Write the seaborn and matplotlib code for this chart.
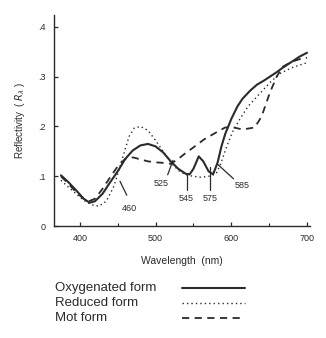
import numpy as np
import pandas as pd
import matplotlib
matplotlib.use("Agg")
import matplotlib.pyplot as plt
from matplotlib.lines import Line2D
import seaborn as sns

# values
oxy_wl = [375, 385, 395, 405, 413, 420, 430, 440, 450, 460, 470, 480, 490, 500, 510, 520,
          530, 540, 545, 550, 557, 563, 570, 576, 582, 587, 592, 600, 608, 615, 625, 634,
          643, 651, 660, 668, 680, 690, 700]
oxy_r = [0.102, 0.088, 0.072, 0.055, 0.047, 0.050, 0.065, 0.088, 0.110, 0.135, 0.152, 0.162,
         0.165, 0.160, 0.148, 0.130, 0.115, 0.105, 0.104, 0.115, 0.140, 0.130, 0.110, 0.104,
         0.128, 0.160, 0.185, 0.215, 0.240, 0.256, 0.272, 0.284, 0.292, 0.300, 0.309, 0.318,
         0.330, 0.340, 0.348]

red_wl = [375, 385, 395, 405, 415, 425, 435, 445, 455, 465, 472, 480, 490, 500, 510, 520,
          530, 540, 550, 560, 570, 580, 586, 594, 602, 611, 622, 634, 651, 664, 680, 690, 700]
red_r = [0.092, 0.078, 0.065, 0.052, 0.043, 0.040, 0.050, 0.080, 0.130, 0.180, 0.197, 0.200,
         0.192, 0.172, 0.150, 0.128, 0.112, 0.103, 0.100, 0.098, 0.100, 0.105, 0.125, 0.160,
         0.190, 0.214, 0.240, 0.260, 0.288, 0.306, 0.318, 0.323, 0.328]

mot_wl = [375, 385, 395, 405, 412, 420, 430, 440, 450, 460, 470, 480, 490, 500, 510, 520,
          530, 540, 550, 564, 580, 592, 603, 615, 631, 640, 651, 660, 668, 680, 690, 700]
mot_r = [0.100, 0.085, 0.068, 0.055, 0.050, 0.055, 0.075, 0.098, 0.120, 0.135, 0.138, 0.134,
         0.130, 0.128, 0.127, 0.125, 0.135, 0.147, 0.158, 0.174, 0.188, 0.198, 0.198, 0.194,
         0.198, 0.220, 0.268, 0.300, 0.320, 0.330, 0.335, 0.338]

peak_labels = ["460", "525", "545", "575", "585"]
# (text x, text y, line start x, line start y, line end x, line end y)
peak_marks = [(466, 0.035, 453, 0.090, 462, 0.062),
              (508, 0.085, 523, 0.132, 516, 0.103),
              (541, 0.055, 541, 0.104, 541, 0.073),
              (572, 0.055, 572, 0.118, 572, 0.073),
              (615, 0.082, 582, 0.124, 603, 0.095)]

legend_names = ["Oxygenated form", "Reduced form", "Mot form"]

sns.set_style("ticks")
plt.rcParams['font.family'] = ['Liberation Sans', 'DejaVu Sans']

ink = "#2b2b2b"
styles = ["-", (0, (1, 2.2)), (0, (4, 3))]
widths = [1.5, 1.0, 1.3]

fig = plt.figure(figsize=(3.26, 3.38), dpi=100)
ax = fig.add_axes([0.166, 0.331, 0.785, 0.625])

series = [(oxy_wl, oxy_r), (red_wl, red_r), (mot_wl, mot_r)]
for (wl, r), ls, lw in zip(series, styles, widths):
    sns.lineplot(x=wl, y=r, ax=ax, color=ink, linestyle=ls, linewidth=lw, sort=False)

for lab, (tx, ty, x0, y0, x1, y1) in zip(peak_labels, peak_marks):
    ax.plot([x0, x1], [y0, y1], color=ink, lw=0.9)
    ax.text(tx, ty, lab, ha="center", va="center", fontsize=6.5, color=ink)

ax.set_xlim(366, 704)
ax.set_ylim(0, 0.424)
ax.set_xticks([400, 500, 600, 700])
ax.set_xticks([450, 550, 650], minor=True)
ax.set_yticks([0, 0.1, 0.2, 0.3, 0.4])
ax.set_yticklabels(["0", ".1", ".2", ".3", ".4"])
ax.tick_params(direction="in", length=3, width=0.9, labelsize=6.5, colors=ink, pad=6)
ax.tick_params(which="minor", direction="in", length=2, width=0.8)
sns.despine(ax=ax)
for s in ["left", "bottom"]:
    ax.spines[s].set_color(ink)
    ax.spines[s].set_linewidth(1.0)
ax.set_xlabel("Wavelength  (nm)", fontsize=7.5, color=ink, labelpad=9)
ax.set_ylabel("Reflectivity  ( $R_\\lambda$ )", fontsize=7, color=ink, labelpad=8)

# legend drawn below the axes
for i, (name, ls, lw) in enumerate(zip(legend_names, styles, widths)):
    yy = 1 - (288 + 15 * i) / 338
    fig.text(55 / 326, yy, name, fontsize=9.5, color=ink, va="center")
    fig.add_artist(Line2D([182 / 326, 245 / 326], [yy, yy], color=ink,
                          linestyle=ls, linewidth=lw, transform=fig.transFigure))

fig.savefig("out.png", dpi=100, facecolor="white")
